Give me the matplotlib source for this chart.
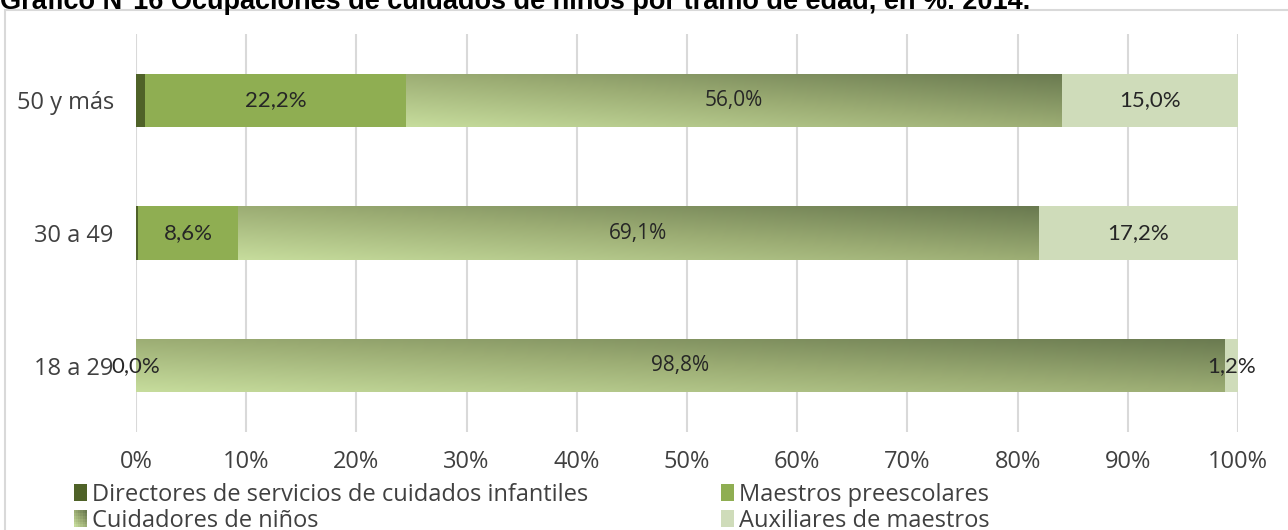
import numpy as np
import matplotlib
matplotlib.use("Agg")
import matplotlib.pyplot as plt
from matplotlib.patches import Rectangle, Patch
from matplotlib.colors import LinearSegmentedColormap
from matplotlib.legend_handler import HandlerBase

# ---- data ----
categories = ["18 a 29", "30 a 49", "50 y más"]
series_names = ["Directores de servicios de cuidados infantiles",
                "Maestros preescolares",
                "Cuidadores de niños",
                "Auxiliares de maestros"]
directores = [0.0, 0.2, 0.8]
maestros = [0.0, 8.6, 22.2]
cuidadores = [98.8, 69.1, 56.0]
auxiliares = [1.2, 17.2, 15.0]
xticks = [0, 10, 20, 30, 40, 50, 60, 70, 80, 90, 100]
title = "Gráfico N°16 Ocupaciones de cuidados de niños por tramo de edad, en %. 2014."

# ---- style ----
W, H = 1288, 530
fig = plt.figure(figsize=(W / 100, H / 100), dpi=100)
c_dir = "#4f6228"
c_mae = "#8fae52"
c_aux = "#cfdcba"
grad_cmap = LinearSegmentedColormap.from_list("g", ["#c6dc9c", "#9cad74", "#6a7a50"])
txt_col = "#404040"
lab_col = "#262626"
font_main = "Open Sans"
font_lab = "Lato"

# border rectangle
fig.patches.append(Rectangle((5 / W, -0.05), 1.2, 1 - 10 / H + 0.05,
                             transform=fig.transFigure, fill=False,
                             edgecolor="#d9d9d9", linewidth=1.5))
fig.text(0 / W, 1 - 9 / H, title, ha="left", va="baseline",
         fontsize=19.5, fontweight="bold", family="Liberation Sans", color="#000000")

ax = fig.add_axes([136 / W, 1 - 432 / H, (1238 - 136) / W, (432 - 34) / H])
data = np.array([directores, maestros, cuidadores, auxiliares], dtype=float)
totals = data.sum(axis=0)
pct = data / totals * 100
y = np.arange(len(categories))
bh = 0.4
left = np.zeros(len(categories))
colors = [c_dir, c_mae, None, c_aux]
for si in range(4):
    for ci in range(len(categories)):
        w = pct[si, ci]
        x0 = left[ci]
        if si == 2:
            rect = Rectangle((x0, y[ci] - bh / 2), w, bh, facecolor="none",
                             edgecolor="none", zorder=2)
            ax.add_patch(rect)
            u = np.linspace(0, 1, 200)
            v = np.linspace(0, 1, 30)
            U, V = np.meshgrid(u, v)
            T = (U + V) / 2
            im = ax.imshow(T, cmap=grad_cmap, vmin=0, vmax=1, origin="lower",
                           extent=(x0, x0 + w, y[ci] - bh / 2, y[ci] + bh / 2),
                           aspect="auto", interpolation="bilinear", zorder=2)
            im.set_clip_path(rect)
        else:
            ax.barh(y[ci], w, left=x0, height=bh, color=colors[si],
                    edgecolor="none", zorder=2)
        # labels
        if si != 0:
            val = data[si, ci]
            s = f"{val:.1f}%".replace(".", ",")
            if si == 2:
                ax.text(x0 + w / 2, y[ci], s, ha="center", va="center",
                        fontsize=15, color=lab_col, family=font_main, zorder=5)
            else:
                ax.text(x0 + w / 2, y[ci], s, ha="center", va="center",
                        fontsize=16, color=lab_col, family=font_lab, zorder=5)
        left[ci] += w

ax.set_xlim(0, 100)
ax.set_ylim(-0.5, len(categories) - 0.5)
ax.set_xticks(xticks)
ax.set_xticklabels([f"{t}%" for t in xticks])
ax.set_yticks(y)
ax.set_yticklabels(categories)
ax.tick_params(length=0, labelsize=17, colors=txt_col)
ax.tick_params(axis="x", pad=13)
ax.tick_params(axis="y", pad=16)
for lbl in ax.get_xticklabels() + ax.get_yticklabels():
    lbl.set_family(font_main)
ax.xaxis.grid(True, color="#d9d9d9", linewidth=1.5, zorder=0)
ax.set_axisbelow(True)
for sp in ax.spines.values():
    sp.set_visible(False)


class GradHandler(HandlerBase):
    def create_artists(self, legend, orig_handle, xdescent, ydescent, width,
                       height, fontsize, trans):
        arts = []
        n = 6
        for i in range(n):
            for j in range(n):
                t = (i + j) / (2 * (n - 1))
                r = Rectangle((-xdescent + i * width / n, -ydescent + j * height / n),
                              width / n + 0.2, height / n + 0.2,
                              facecolor=grad_cmap(t), edgecolor="none",
                              transform=trans)
                arts.append(r)
        return arts


h_dir = Patch(facecolor=c_dir)
h_mae = Patch(facecolor=c_mae)
h_cui = Patch(facecolor="#9cad74")
h_aux = Patch(facecolor=c_aux)
leg_kw = dict(loc="upper left", frameon=False, handlelength=0.55, handleheight=0.75,
              handletextpad=0.2, labelspacing=0.08, borderaxespad=0, borderpad=0,
              prop={"family": font_main, "size": 17})
leg1 = fig.legend([h_dir, h_cui], [series_names[0], series_names[2]],
                  bbox_to_anchor=(74 / W, 1 - 483 / H),
                  handler_map={h_cui: GradHandler()}, **leg_kw)
leg2 = fig.legend([h_mae, h_aux], [series_names[1], series_names[3]],
                  bbox_to_anchor=(721 / W, 1 - 483 / H), **leg_kw)
for lg in (leg1, leg2):
    for t in lg.get_texts():
        t.set_color(txt_col)

fig.savefig("out.png", dpi=100)
